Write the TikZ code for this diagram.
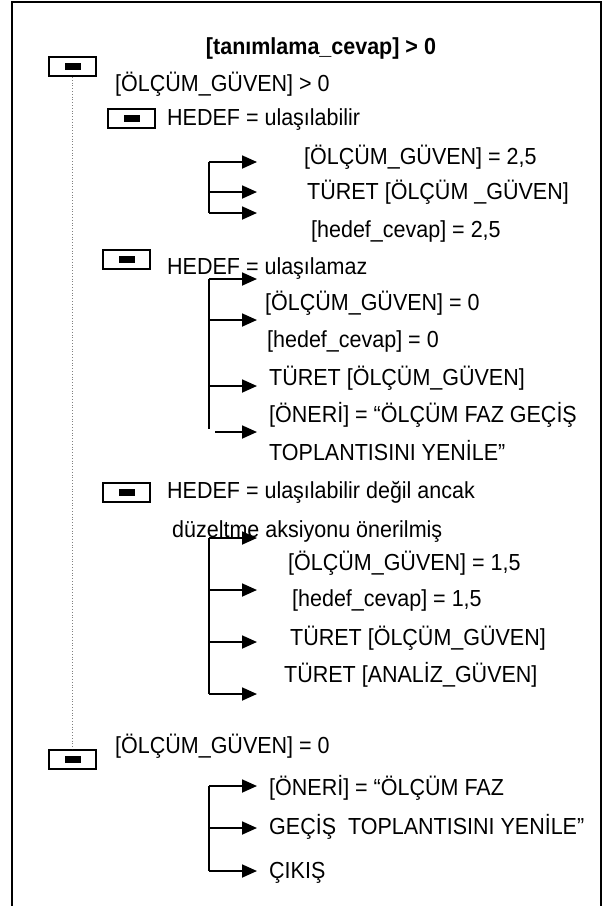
\documentclass[tikz,border=0pt]{standalone}
\usepackage{fontspec}
\usepackage{graphicx}
\setmainfont{Liberation Sans}
\usetikzlibrary{arrows.meta}
\newcommand{\tallt}[1]{\scalebox{1}[1.08]{#1}}
\begin{document}
\begin{tikzpicture}[x=1pt,y=-1pt,
  lbl/.style={font=\fontsize{21.5}{25}\selectfont, anchor=base west, inner sep=0pt},
  ttl/.style={font=\fontsize{21.5}{25}\selectfont\bfseries, anchor=base, inner sep=0pt},
  togglebox/.style={draw, line width=2pt, minimum width=47pt, minimum height=19pt, inner sep=0pt},
  knob/.style={fill=black, minimum width=16pt, minimum height=7pt, inner sep=0pt},
  conn/.style={line width=1.8pt},
  arr/.style={line width=1.8pt, -{Triangle[length=15pt,width=13pt]}},
  dotline/.style={gray, dotted, line width=0.8pt},
  frame/.style={line width=2pt}]
\useasboundingbox (0,0) rectangle (607,906);
\fill[white] (0,0) rectangle (607,906);
% frame (open at the bottom, cut by the page)
\coordinate (fbl) at (12,906);
\coordinate (ftl) at (12,2);
\coordinate (ftr) at (601,2);
\coordinate (fbr) at (601,906);
\draw[frame] (fbl) -- (ftl) -- (ftr) -- (fbr);

% title
\node[ttl] (title) at (321,54.5) {\tallt{[tanımlama\_cevap] > 0}};

% toggle boxes
\node[togglebox] (b1) at (72.5,66.5) {};
\node[knob] (k1) at (b1.center) {};
\node[togglebox] (b2) at (131.5,118.5) {};
\node[knob] (k2) at (b2.center) {};
\node[togglebox] (b3) at (126.5,259) {};
\node[knob] (k3) at (b3.center) {};
\node[togglebox] (b4) at (126.5,492.5) {};
\node[knob] (k4) at (b4.center) {};
\node[togglebox] (b5) at (72.5,759.5) {};
\node[knob] (k5) at (b5.center) {};
\draw[dotline] (b1.south) -- (b5.north);

% texts
\node[lbl] (t1) at (115,91) {\tallt{[ÖLÇÜM\_GÜVEN] > 0}};
\node[lbl] (t2) at (167,125.5) {\tallt{HEDEF = ulaşılabilir}};
\node[lbl] (a1) at (304,164.5) {\tallt{[ÖLÇÜM\_GÜVEN] = 2,5}};
\node[lbl] (a2) at (307,199) {\tallt{TÜRET [ÖLÇÜM \_GÜVEN]}};
\node[lbl] (a3) at (311,237) {\tallt{[hedef\_cevap] = 2,5}};
\node[lbl] (t3) at (167,274.5) {\tallt{HEDEF = ulaşılamaz}};
\node[lbl] (c1) at (265,310.5) {\tallt{[ÖLÇÜM\_GÜVEN] = 0}};
\node[lbl] (c2) at (267,347) {\tallt{[hedef\_cevap] = 0}};
\node[lbl] (c3) at (269,385.5) {\tallt{TÜRET [ÖLÇÜM\_GÜVEN]}};
\node[lbl] (c4) at (269,422.5) {\tallt{[ÖNERİ] = “ÖLÇÜM FAZ GEÇİŞ}};
\node[lbl] (c5) at (269,460) {\tallt{TOPLANTISINI YENİLE”}};
\node[lbl] (t4) at (167,498.5) {\tallt{HEDEF = ulaşılabilir değil ancak}};
\node[lbl] (t4b) at (172,537.5) {\tallt{düzeltme aksiyonu önerilmiş}};
\node[lbl] (d1) at (288,570) {\tallt{[ÖLÇÜM\_GÜVEN] = 1,5}};
\node[lbl] (d2) at (292,606.5) {\tallt{[hedef\_cevap] = 1,5}};
\node[lbl] (d3) at (290,645) {\tallt{TÜRET [ÖLÇÜM\_GÜVEN]}};
\node[lbl] (d4) at (284,682) {\tallt{TÜRET [ANALİZ\_GÜVEN]}};
\node[lbl] (t5) at (115,753.5) {\tallt{[ÖLÇÜM\_GÜVEN] = 0}};
\node[lbl] (e1) at (269,795.5) {\tallt{[ÖNERİ] = “ÖLÇÜM FAZ}};
\node[lbl] (e2) at (269,834) {\tallt{GEÇİŞ\ \ TOPLANTISINI YENİLE”}};
\node[lbl] (e3) at (269,878.5) {\tallt{ÇIKIŞ}};

% arrow tips x
\coordinate (tip) at (257,0);

% group 1
\coordinate (g1a) at (209,162);
\coordinate (g1b) at (209,192);
\coordinate (g1c) at (209,213);
\draw[conn] (g1a) -- (g1c);
\draw[arr] (g1a) -- (g1a -| tip);
\draw[arr] (g1b) -- (g1b -| tip);
\draw[arr] (g1c) -- (g1c -| tip);

% group 2
\coordinate (g2a) at (209,279);
\coordinate (g2b) at (209,320);
\coordinate (g2c) at (209,386);
\coordinate (g2e) at (209,429);
\coordinate (g2d) at (215,432);
\draw[conn] (g2a) -- (g2e);
\draw[arr] (g2a) -- (g2a -| tip);
\draw[arr] (g2b) -- (g2b -| tip);
\draw[arr] (g2c) -- (g2c -| tip);
\draw[arr] (g2d) -- (g2d -| tip);

% group 3
\coordinate (g3a) at (209,538);
\coordinate (g3b) at (209,590);
\coordinate (g3c) at (209,642);
\coordinate (g3d) at (209,694);
\draw[conn] (g3a) -- (g3d);
\draw[arr] (g3a) -- (g3a -| tip);
\draw[arr] (g3b) -- (g3b -| tip);
\draw[arr] (g3c) -- (g3c -| tip);
\draw[arr] (g3d) -- (g3d -| tip);

% group 4
\coordinate (g4a) at (209,786);
\coordinate (g4b) at (209,828);
\coordinate (g4c) at (209,871);
\draw[conn] (g4a) -- (g4c);
\draw[arr] (g4a) -- (g4a -| tip);
\draw[arr] (g4b) -- (g4b -| tip);
\draw[arr] (g4c) -- (g4c -| tip);
\end{tikzpicture}
\end{document}
